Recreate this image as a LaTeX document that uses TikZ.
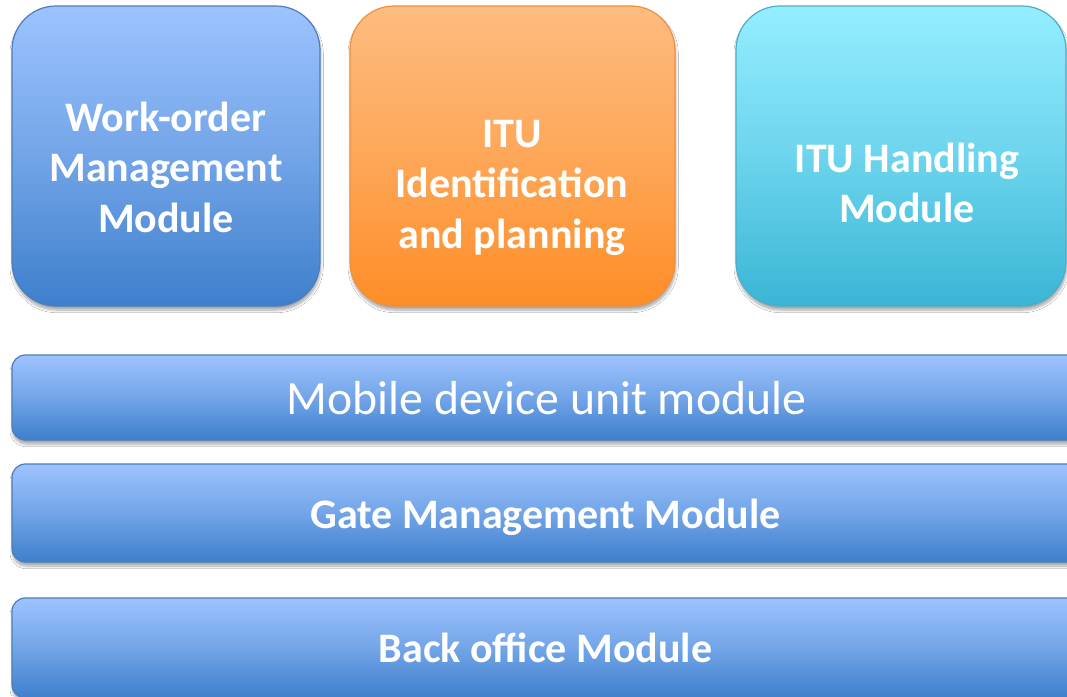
\documentclass[tikz,border=0pt]{standalone}
\usepackage{fontspec}
\setmainfont{Carlito}
\usetikzlibrary{shadows.blur}
\definecolor{bluetop}{HTML}{9DC3FE}
\definecolor{bluebot}{HTML}{3E7FCC}
\definecolor{blueline}{HTML}{4A7EBB}
\definecolor{oratop}{HTML}{FEBC80}
\definecolor{orabot}{HTML}{FE8D27}
\definecolor{oraline}{HTML}{F0903E}
\definecolor{cyantop}{HTML}{95EEFF}
\definecolor{cyanbot}{HTML}{3AB5D6}
\definecolor{cyanline}{HTML}{4AAEC8}
\tikzset{
  modshadow/.style={blur shadow={shadow xshift=0.5pt, shadow yshift=-3pt, shadow blur radius=2pt, shadow opacity=35, shadow blur steps=8}},
  bluefill/.style={draw=blueline, top color=bluetop, bottom color=bluebot, middle color=bluetop!55!bluebot},
  orafill/.style={draw=oraline, top color=oratop, bottom color=orabot, middle color=oratop!55!orabot},
  cyanfill/.style={draw=cyanline, top color=cyantop, bottom color=cyanbot, middle color=cyantop!55!cyanbot},
  bigbox/.style={rectangle, rounded corners=33pt, line width=0.9pt, minimum height=225pt, inner sep=0pt, modshadow},
  barbox/.style={rectangle, rounded corners=10pt, line width=0.9pt, minimum width=801pt, inner sep=0pt, modshadow, bluefill},
  boldlbl/.style={text=white, inner sep=0pt, anchor=base, font=\bfseries\fontsize{31.5}{37.9}\selectfont},
  reglbl/.style={text=white, inner sep=0pt, anchor=base, font=\fontsize{35.8}{43}\selectfont},
}
\newcommand{\mylines}[1]{\begin{tabular}[t]{@{}c@{}}#1\end{tabular}}
\begin{document}
\begin{tikzpicture}[x=0.75pt, y=-0.75pt]
\useasboundingbox (0,0) rectangle (1067,696);
\clip (0,0) rectangle (1067,696);
\fill[white] (0,0) rectangle (1067,696);
% top boxes
\node[bigbox, bluefill, minimum width=231pt] (wo) at (166,156) {};
\node[bigbox, orafill, minimum width=243.75pt] (itu) at (512.5,156) {};
\node[bigbox, cyanfill, minimum width=247.5pt] (hdl) at (901,156) {};
% bars
\node[barbox, minimum height=63.75pt] (mob) at (546,397.5) {};
\node[barbox, minimum height=73.5pt] (gate) at (546,513) {};
\node[barbox, minimum height=75pt] (back) at (546,648) {};
% labels
\node[boldlbl] (wolbl) at (166,131) {\mylines{Work-order\\Management\\Module}};
\node[boldlbl] (itulbl) at (512,147) {\mylines{ITU\\Identifica\kern0pt tion\\and planning}};
\node[boldlbl] (hdllbl) at (907,172) {\mylines{ITU Handling\\Module}};
\node[reglbl] (moblbl) at (546.5,414) {Mobile device unit module};
\node[boldlbl] (gatelbl) at (545.5,528) {Gate Management Module};
\node[boldlbl] (backlbl) at (545.5,662) {Back office Module};
\end{tikzpicture}
\end{document}
